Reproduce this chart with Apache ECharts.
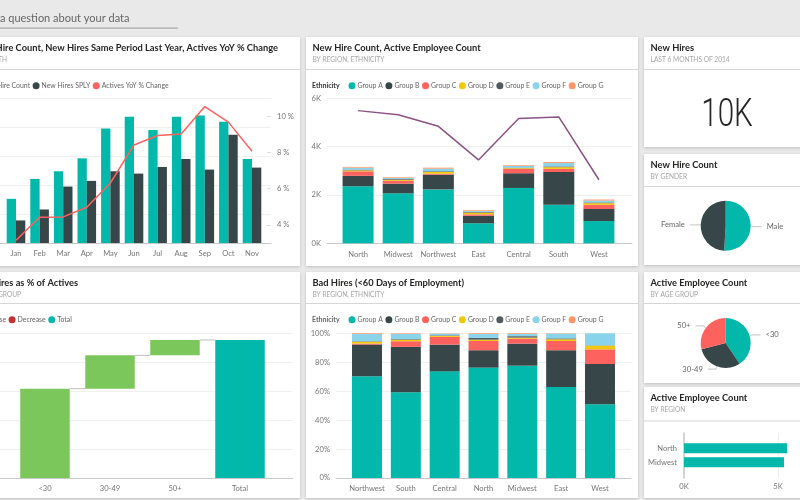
<!DOCTYPE html>
<html>
<head>
<meta charset="utf-8">
<style>html,body{margin:0;padding:0;background:#e9e9e9}#main{width:800px;height:500px}</style>
<script src="https://cdn.jsdelivr.net/npm/echarts@6/dist/echarts.min.js"></script>
</head>
<body>
<div id="main"></div>
<script>
// palette
const TEAL = "#01B8AA", DARK = "#374649", RED = "#FD625E", YELLOW = "#F2C80F",
  GREY = "#4F5B5E", BLUE = "#8AD4EB", ORANGE = "#FE9666", PURPLE = "#8B5285", GREEN = "#7CC75B";
const FONT = "Lato, sans-serif";

// monthly hires
const months = ["Jan", "Feb", "Mar", "Apr", "May", "Jun", "Jul", "Aug", "Sep", "Oct", "Nov"];
const newHires = [762, 1105, 1237, 1460, 1976, 2176, 1947, 2176, 2199, 2090, 1449];
const newHiresSPLY = [389, 578, 973, 1071, 1237, 1197, 1311, 1449, 1266, 1867, 1300];
const activesYoY = [3.15, 4.42, 4.44, 4.97, 6.31, 8.41, 8.93, 9.02, 10.53, 9.67, 8.06];
const yoyTicks = [4, 6, 8, 10];

// new hires by region, in thousands
const groupNames = ["Group A", "Group B", "Group C", "Group D", "Group E", "Group F", "Group G"];
const groupColors = [TEAL, DARK, RED, YELLOW, GREY, BLUE, ORANGE];
const regions = ["North", "Midwest", "Northwest", "East", "Central", "South", "West"];
const hireA = [2.36, 2.07, 2.23, 0.83, 2.29, 1.60, 0.92];
const hireB = [0.43, 0.40, 0.61, 0.31, 0.61, 1.35, 0.50];
const hireC = [0.19, 0.12, 0.04, 0.06, 0.18, 0.13, 0.17];
const hireD = [0.04, 0.04, 0.07, 0.07, 0.03, 0.07, 0.07];
const hireE = [0.03, 0.03, 0.03, 0.03, 0.02, 0.03, 0.03];
const hireF = [0.08, 0.04, 0.11, 0.04, 0.07, 0.14, 0.08];
const hireG = [0.03, 0.03, 0.04, 0.03, 0.03, 0.04, 0.04];
const activeEmployees = [5.49, 5.32, 4.84, 3.45, 5.16, 5.23, 2.63];

// bad hires share by region
const badRegions = ["Northwest", "South", "Central", "North", "Midwest", "East", "West"];
const badA = [70.3, 59.2, 73.7, 76.3, 77.6, 62.9, 50.9];
const badB = [21.9, 31.4, 18.5, 12.0, 15.3, 25.4, 27.9];
const badC = [0.7, 3.9, 5.3, 6.4, 3.4, 6.4, 10.1];
const badD = [1.3, 1.1, 0.7, 0.9, 0.7, 1.2, 2.6];
const badE = [0.3, 0.4, 0.4, 1.2, 1.0, 0.6, 0.2];
const badF = [5.0, 3.6, 1.2, 2.7, 1.5, 3.3, 8.3];
const badG = [0.5, 0.4, 0.2, 0.5, 0.5, 0.2, 0];

// waterfall
const ageSteps = ["<30", "30-49", "50+", "Total"];
const stepBase = [0, 3.08, 4.23, null];
const stepIncrease = [3.08, 1.15, 0.53, null];
const stepTotal = [null, null, null, 4.76];
const stepLevels = [3.08, 4.23, 4.76];

// small multiples on the right
const genderNames = ["Male", "Female"];
const genderValues = [51, 49];
const ageNames = ["<30", "30-49", "50+"];
const ageValues = [40.6, 30.3, 29.1];
const regionTop = ["North", "Midwest"];
const regionActive = [5.49, 5.32];

const grid = [], xAxis = [], yAxis = [], series = [], legend = [], graphic = [];

const labelStyle = { color: "#777", fontSize: 7.6, fontFamily: FONT };
const gridLine = { show: true, lineStyle: { color: "#efefef", width: 1 } };
const baseLine = { show: true, lineStyle: { color: "#c8c8c8", width: 1 } };
const legendText = { color: "#666", fontSize: 6.9, fontFamily: FONT, padding: [0, 0, 0, -3] };

function text(str, x, y, font, fill, align) {
  graphic.push({
    type: "text", z: 5,
    style: { text: str, x, y, font, fill, textAlign: align || "left", textVerticalAlign: "middle" }
  });
}

function card(x, y, w, h, sepY, title, sub, right) {
  graphic.push({
    type: "rect", z: -20,
    shape: { x, y, width: w, height: h },
    style: { fill: "#fff", shadowBlur: 3, shadowColor: "rgba(0,0,0,0.18)", shadowOffsetY: 1 }
  });
  graphic.push({
    type: "rect", z: -19,
    shape: { x, y: sepY, width: w, height: 1 },
    style: { fill: "#d6d6d6" }
  });
  const tx = right === undefined ? x + 6.5 : right[0];
  const sx = right === undefined ? x + 6.5 : right[1];
  const al = right === undefined ? "left" : "right";
  text(title, tx, y + 11, "bold 9.3px " + FONT, "#252423", al);
  text(sub, sx, y + 22.5, "6.6px " + FONT, "#a6a6a6", al);
}

// the gridlines and the baseline run wider than the category bands, so they live on their own grid
function frame(left, top, width, height, min, max, interval, showLabels, fmt) {
  grid.push({ left, top, width, height });
  const i = grid.length - 1;
  xAxis.push({
    gridIndex: i, type: "value", min: 0, max: 1, silent: true,
    axisLine: { ...baseLine, onZero: false }, axisTick: { show: false }, axisLabel: { show: false }, splitLine: { show: false }
  });
  yAxis.push({
    gridIndex: i, type: "value", min, max, interval, silent: true,
    axisLine: { show: false }, axisTick: { show: false }, splitLine: gridLine,
    axisLabel: { show: showLabels, formatter: fmt, margin: 6, ...labelStyle }
  });
}

function plot(left, top, width, height, cats, min, max) {
  grid.push({ left, top, width, height });
  const g = grid.length - 1;
  xAxis.push({
    gridIndex: g, type: "category", data: cats, silent: true,
    axisLine: { show: false }, axisTick: { show: false }, splitLine: { show: false },
    axisLabel: { margin: 7, interval: 0, ...labelStyle }
  });
  yAxis.push({ gridIndex: g, type: "value", min, max, show: false });
  return { x: xAxis.length - 1, y: yAxis.length - 1, g };
}

function addLegend(left, top, data) {
  legend.push({
    left, top, padding: 0, width: 500, icon: "circle", itemWidth: 7, itemHeight: 7, itemGap: 2.5, selectedMode: false,
    data, textStyle: legendText
  });
}

function stacked(p, stack, sets, barWidth) {
  sets.forEach((data, k) => {
    series.push({
      type: "bar", name: groupNames[k], data, stack, xAxisIndex: p.x, yAxisIndex: p.y, barWidth,
      itemStyle: { color: groupColors[k] }
    });
  });
}

// ---- cards ----
text("Ask a question about your data", 129.5, 18, "11px " + FONT, "#666", "right");
graphic.push({ type: "rect", z: 1, shape: { x: 0, y: 27.5, width: 178, height: 1.2 }, style: { fill: "#a8a8a8" } });

card(-10, 37, 310, 229, 69, "New Hire Count, New Hires Same Period Last Year, Actives YoY % Change", "BY MONTH", [278, 7]);
card(306, 37, 332, 229, 69, "New Hire Count, Active Employee Count", "BY REGION, ETHNICITY");
card(-10, 272, 310, 226, 303, "New Hires as % of Actives", "BY AGE GROUP", [78, 21]);
card(306, 272, 332, 226, 303, "Bad Hires (<60 Days of Employment)", "BY REGION, ETHNICITY");
card(644, 37, 166, 110, 69, "New Hires", "LAST 6 MONTHS OF 2014");
card(644, 154, 166, 111, 186, "New Hire Count", "BY GENDER");
card(644, 272, 166, 111, 303, "Active Employee Count", "BY AGE GROUP");
card(644, 387, 166, 111, 420.5, "Active Employee Count", "BY REGION");

// the big number is a condensed face in the reference, so squeeze Roboto Light horizontally
graphic.push({
  type: "text", z: 5, x: 727, y: 116, scaleX: 0.78,
  style: { text: "10K", font: "300 38px Roboto, sans-serif", fill: "#252423", textAlign: "center", textVerticalAlign: "middle" }
});
text("Ethnicity", 312, 85.7, "bold 7px " + FONT, "#333");
text("Ethnicity", 312, 319.7, "bold 7px " + FONT, "#666");

// ---- monthly combo ----
frame(-3, 98, 274, 145, 0, 2500, 500, false);
const monthly = plot(4.2, 98, 259.6, 145, months, 0, 2500);
yAxis.push({
  gridIndex: monthly.g, type: "value", position: "right", offset: 7.2, min: 3, max: 11, silent: true,
  axisLine: { show: false }, splitLine: { show: false },
  axisTick: { show: true, inside: true, length: 4, customValues: yoyTicks, lineStyle: { color: "#ddd" } },
  axisLabel: { margin: 6, customValues: yoyTicks, formatter: "{value} %", ...labelStyle }
});
const yoyAxis = yAxis.length - 1;
series.push(
  { type: "bar", name: "New Hire Count", data: newHires, xAxisIndex: monthly.x, yAxisIndex: monthly.y, barWidth: 9.3, barGap: 0, itemStyle: { color: TEAL } },
  { type: "bar", name: "New Hires SPLY", data: newHiresSPLY, xAxisIndex: monthly.x, yAxisIndex: monthly.y, barWidth: 9.3, barGap: 0, itemStyle: { color: DARK } },
  { type: "line", name: "Actives YoY % Change", data: activesYoY, xAxisIndex: monthly.x, yAxisIndex: yoyAxis, z: 5, symbol: "none", lineStyle: { color: RED, width: 1.5 }, itemStyle: { color: RED } }
);
addLegend(-28, 82.2, ["New Hire Count", "New Hires SPLY", "Actives YoY % Change"]);

// ---- hires by region ----
frame(327, 98.3, 305, 145, 0, 6, 2, true, "{value}K");
const hires = plot(338, 98.3, 281, 145, regions, 0, 6);
stacked(hires, "hire", [hireA, hireB, hireC, hireD, hireE, hireF, hireG], 31);
series.push({
  type: "line", name: "Active Employee Count", data: activeEmployees, xAxisIndex: hires.x, yAxisIndex: hires.y, z: 5,
  symbol: "none", lineStyle: { color: PURPLE, width: 1.5 }, itemStyle: { color: PURPLE }
});
addLegend(348.5, 82.2, groupNames);

// ---- waterfall ----
frame(-8, 333, 300.7, 145, 0, 5, 1, false);
const fall = plot(12.5, 333, 260, 145, ageSteps, 0, 5);
series.push(
  { type: "bar", name: "base", data: stepBase, stack: "fall", xAxisIndex: fall.x, yAxisIndex: fall.y, barWidth: 49.5, itemStyle: { color: "transparent" } },
  { type: "bar", name: "Increase", data: stepIncrease, stack: "fall", xAxisIndex: fall.x, yAxisIndex: fall.y, barWidth: 49.5, itemStyle: { color: GREEN } },
  { type: "bar", name: "Decrease", data: [], stack: "fall", xAxisIndex: fall.x, yAxisIndex: fall.y, barWidth: 49.5, itemStyle: { color: "#C4322F" } },
  { type: "bar", name: "Total", data: stepTotal, stack: "fall", xAxisIndex: fall.x, yAxisIndex: fall.y, barWidth: 49.5, itemStyle: { color: TEAL } },
  {
    type: "custom", name: "connector", xAxisIndex: fall.x, yAxisIndex: fall.y, z: 3,
    data: stepLevels.map((v, i) => [i, v]),
    renderItem(params, api) {
      const p = api.coord([api.value(0), api.value(1)]);
      const band = api.size([1, 0])[0];
      return {
        type: "line",
        shape: { x1: p[0] + 24.75, y1: p[1], x2: p[0] + band - 24.75, y2: p[1] },
        style: { stroke: "#bdbdbd", lineWidth: 1 }
      };
    }
  }
);
addLegend(-28, 316.2, ["Increase", "Decrease", "Total"]);

// ---- bad hires ----
frame(336, 333.3, 295, 144.7, 0, 100, 20, true, "{value}%");
const bad = plot(347.6, 333.3, 271.8, 144.7, badRegions, 0, 100);
stacked(bad, "bad", [badA, badB, badC, badD, badE, badF, badG], 30);
addLegend(348.5, 316.2, groupNames);

// ---- pies ----
function pie(center, names, values, colors) {
  series.push({
    type: "pie", center, radius: 25, silent: true,
    data: names.map((name, i) => ({ name, value: values[i], itemStyle: { color: colors[i] } })),
    label: { color: "#666", fontSize: 7.6, fontFamily: FONT },
    labelLine: { length: 3, length2: 8, lineStyle: { color: "#cfcfcf", width: 1.2 } }
  });
}
pie([725.7, 225.7], genderNames, genderValues, [TEAL, DARK]);
pie([725.7, 343], ageNames, ageValues, [TEAL, DARK, RED]);

// ---- active employees by region ----
grid.push({ left: 684, top: 433, width: 106, height: 45 });
xAxis.push({
  gridIndex: grid.length - 1, type: "value", min: 0, max: 5.64, interval: 5, silent: true,
  axisLine: { show: false }, axisTick: { show: false },
  splitLine: { ...gridLine, showMaxLine: false },
  axisLabel: { margin: 5, showMaxLabel: false, formatter: "{value}K", ...labelStyle }
});
yAxis.push({
  gridIndex: grid.length - 1, type: "value", min: 0, max: 1, silent: true,
  axisLine: { show: true, lineStyle: { color: "#c8c8c8", width: 1.5 } }, axisTick: { show: false },
  axisLabel: { show: false }, splitLine: { show: false }
});
grid.push({ left: 684, top: 441.3, width: 106, height: 28 });
xAxis.push({ gridIndex: grid.length - 1, type: "value", min: 0, max: 5.64, show: false });
yAxis.push({
  gridIndex: grid.length - 1, type: "category", inverse: true, data: regionTop, silent: true,
  axisLine: { show: false }, axisTick: { show: false }, axisLabel: { margin: 7, ...labelStyle }
});
series.push({
  type: "bar", name: "Active by Region", data: regionActive, xAxisIndex: xAxis.length - 1, yAxisIndex: yAxis.length - 1, barWidth: 10,
  itemStyle: { color: TEAL }
});

const chart = echarts.init(document.getElementById("main"), null, { width: 800, height: 500 });
chart.setOption({
  animation: false,
  backgroundColor: "#e9e9e9",
  textStyle: { fontFamily: FONT },
  grid, xAxis, yAxis, series, legend,
  graphic: { elements: graphic }
});
</script>
</body>
</html>
